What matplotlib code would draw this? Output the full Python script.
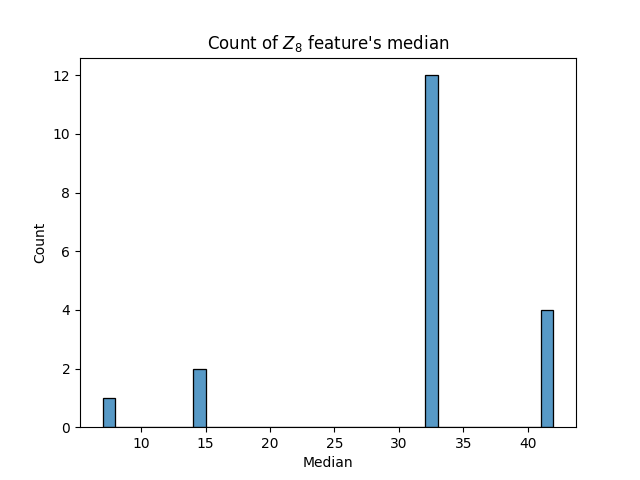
import matplotlib
matplotlib.use("Agg")
import matplotlib.pyplot as plt
import seaborn as sns
import numpy as np

median_values = [7, 14, 32, 42]
median_counts = [1, 2, 12, 4]

data = np.repeat(median_values, median_counts).astype(float)

fig, ax = plt.subplots(figsize=(6.4, 4.8), dpi=100)
sns.histplot(data, bins=35, ax=ax)
ax.set_title("Count of $Z_8$ feature's median")
ax.set_xlabel("Median")
ax.set_ylabel("Count")
fig.savefig("out.png")
